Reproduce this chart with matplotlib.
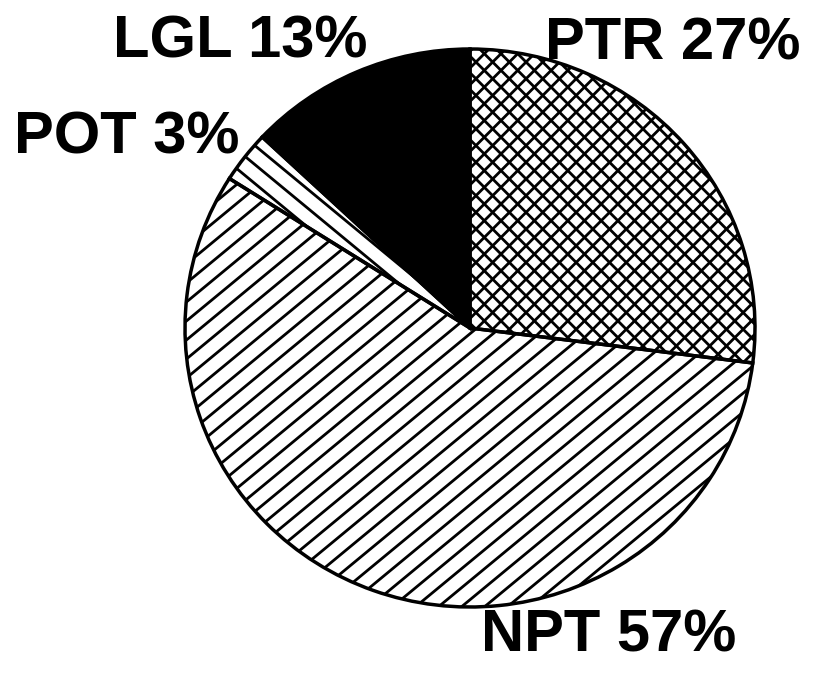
import matplotlib
matplotlib.use("Agg")
import matplotlib.pyplot as plt
from matplotlib.lines import Line2D
from matplotlib.transforms import IdentityTransform
import numpy as np

# slice data, clockwise from 12 o'clock
names = ["PTR", "NPT", "POT", "LGL"]
shares = [27, 57, 3, 13]
colors = ["white", "white", "white", "black"]

# label baseline anchors (data units, pie radius = 1)
label_pos = [(0.71, 0.961), (0.488, -1.161), (-1.204, 0.627), (-0.807, 0.968)]

plt.rcParams["font.family"] = ["Liberation Sans", "DejaVu Sans"]

fig = plt.figure(figsize=(8.22, 6.75), dpi=100)
ax = fig.add_axes([185 / 822, 68 / 675, 570 / 822, 558 / 675])

# faces first, outlines drawn on top later
wedges, _ = ax.pie(shares, colors=colors, startangle=90, counterclock=False,
                   wedgeprops=dict(linewidth=0, zorder=1))
ax.pie(shares, startangle=90, counterclock=False,
       wedgeprops=dict(fill=False, edgecolor="black", linewidth=2.5, zorder=3))

ax.set_aspect("auto")
ax.set_xlim(-1, 1)
ax.set_ylim(-1, 1)
ax.axis("off")


def hatch(wedge, slope, step, lw, offset=0):
    # parallel lines in pixel space, clipped to one wedge
    xs = np.array([0, 822])
    for c in np.arange(-1700, 1700, step) + offset:
        ln = Line2D(xs, slope * xs + c, color="black", lw=lw, zorder=2,
                    transform=IdentityTransform())
        ax.add_artist(ln)
        ln.set_clip_path(wedge)


hatch(wedges[0], 1.0, 16.7, 2.0)          # PTR cross-hatch
hatch(wedges[0], -1.0, 16.7, 2.0)
hatch(wedges[1], 19 / 23, 19, 2.0)        # NPT diagonal
hatch(wedges[2], -19 / 23, 19, 2.0, 8)    # POT back-diagonal

for n, s, (x, y) in zip(names, shares, label_pos):
    ax.text(x, y, f"{n} {s}%", ha="center", va="baseline", fontsize=43,
            fontweight="bold", clip_on=False)

fig.savefig("out.png", dpi=100)
